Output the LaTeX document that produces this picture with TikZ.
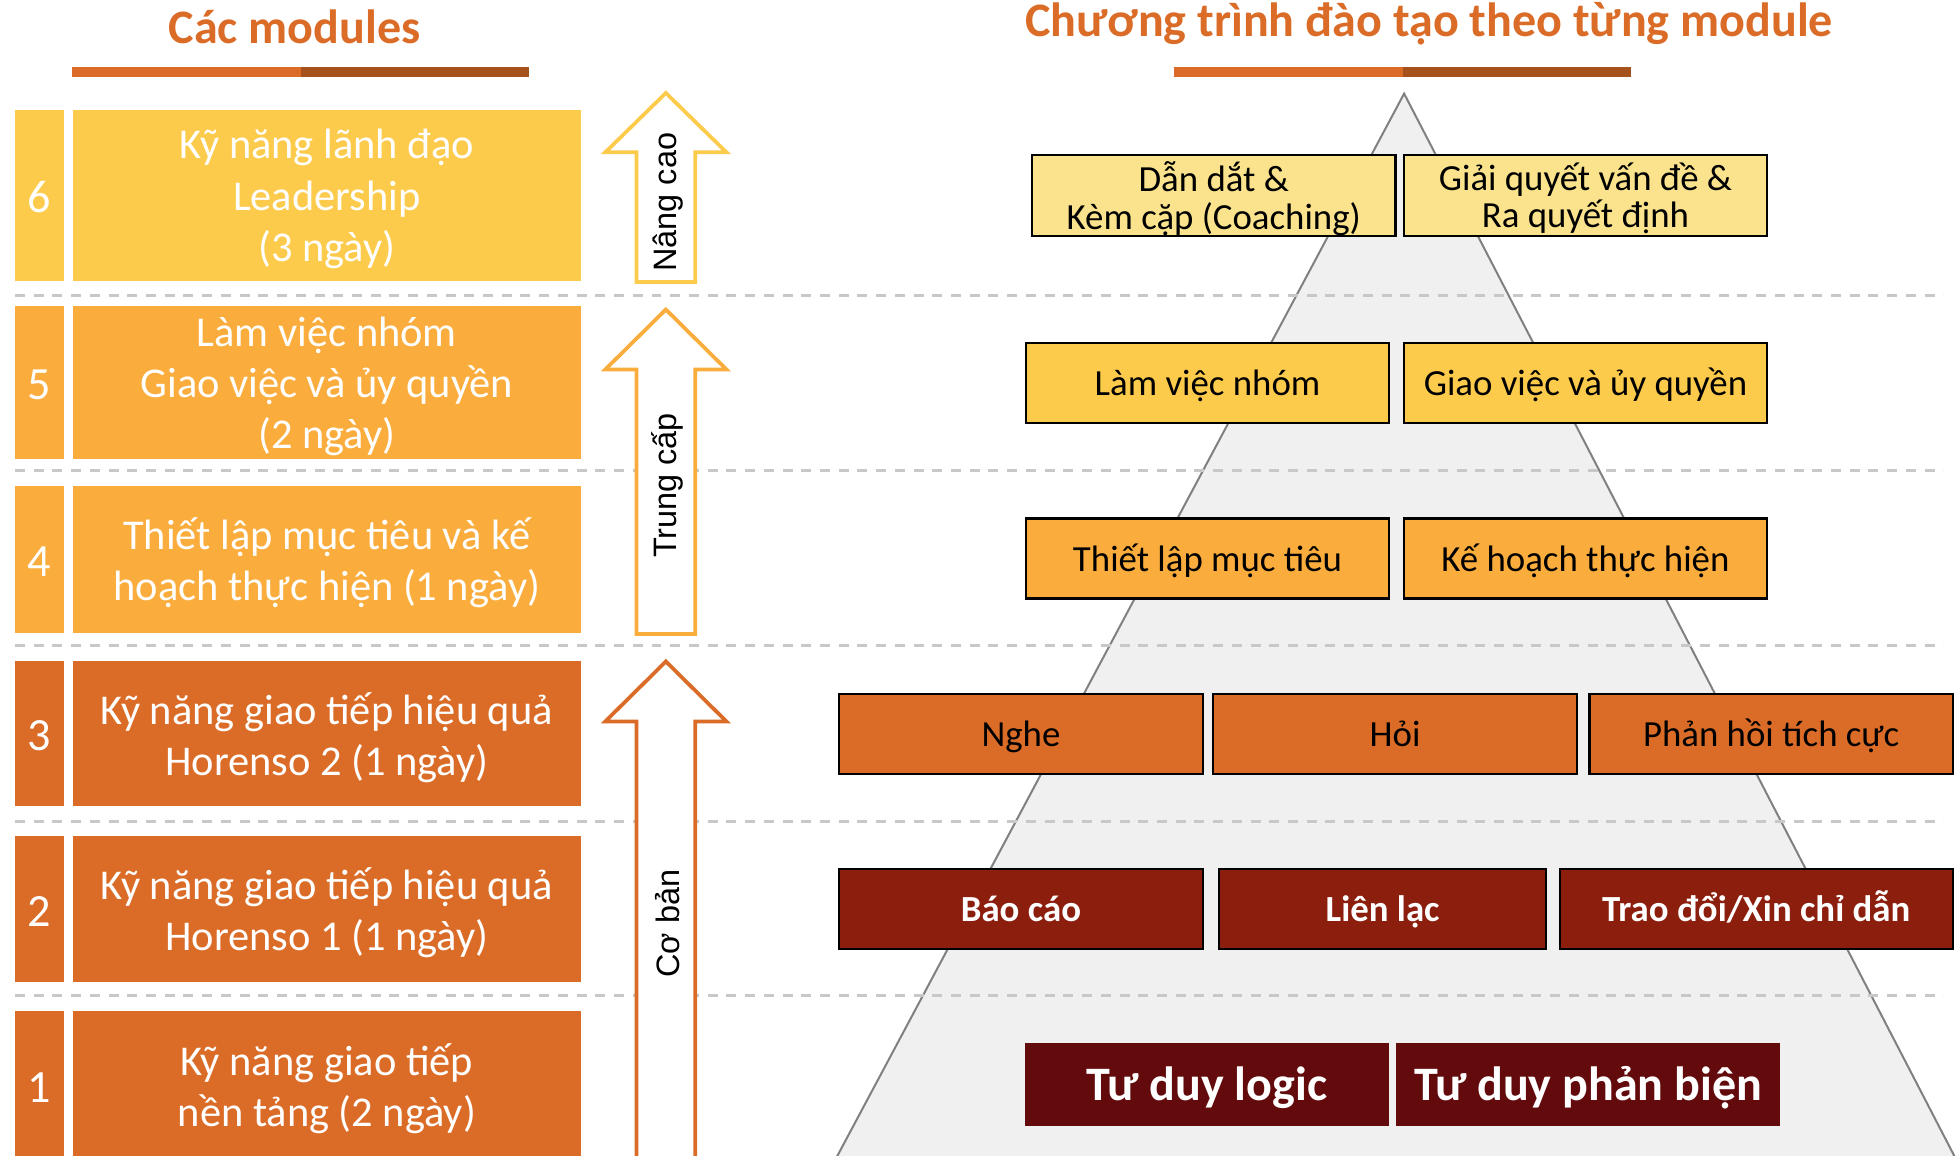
\documentclass[tikz,border=0pt]{standalone}
\usepackage{fontspec}
\setmainfont{Carlito}
\newfontfamily\arialfont{Liberation Sans}
\usetikzlibrary{positioning}
\definecolor{ModYellow}{HTML}{FDCB4C}
\definecolor{ModAmber}{HTML}{FAAD3D}
\definecolor{ModOrange}{HTML}{DB6C27}
\definecolor{ModBrown}{HTML}{A5521D}
\definecolor{SkillPale}{HTML}{FAE38C}
\definecolor{SkillRed}{HTML}{8B1E0D}
\definecolor{SkillDark}{HTML}{630A0D}
\definecolor{PyrFill}{HTML}{F0F0F0}
\definecolor{PyrLine}{HTML}{808080}
\definecolor{SepGray}{HTML}{C8C8C8}

\begin{document}
\begin{tikzpicture}[
    x=1pt, y=-1pt,
    node distance=7pt,
    heading/.style={font=\bfseries\fontsize{38.5}{44}\selectfont, text=ModOrange, anchor=base, inner sep=0},
    numbox/.style={fill=#1, minimum width=39pt, text=white, inner sep=0, text height=27pt, text depth=0pt, font=\fontsize{37}{44}\selectfont},
    modbox/.style={fill=#1, minimum width=407pt, text=white, inner sep=0, align=center, text depth=0pt, font=\fontsize{34}{41}\selectfont},
    levellabel/.style={rotate=90, inner sep=0, font=\arialfont\fontsize{26}{30}\selectfont},
    skill/.style={draw=black, line width=1.8pt, fill=#1, minimum height=64pt, inner sep=0, align=center, text height=21pt, text depth=1pt, font=\fontsize{29.5}{30}\selectfont},
    skillw/.style={skill=#1, text=white, font=\bfseries\fontsize{29.5}{30}\selectfont},
    twoline/.style={text height={}, text depth=0pt},
    footbox/.style={fill=SkillDark, text=white, minimum height=66pt, inner sep=0, text height=26.5pt, text depth=0.5pt, font=\bfseries\fontsize{38.5}{44}\selectfont},
    divider/.style={draw=SepGray, line width=2.4pt, dash pattern=on 8pt off 7pt},
    levelarrow/.style={draw=#1, line width=3pt, fill=white}
]
    \useasboundingbox (0,0) rectangle (1568,926);
    \clip (0,0) rectangle (1568,926);

    % pyramid behind the skills
    \filldraw[fill=PyrFill, draw=PyrLine, line width=1.6pt] (1125,75) -- (663.5,940) -- (1573,940) -- cycle;

    % level separators
    \foreach \y in {237,377,517,658,798}
        \draw[divider] (12,\y) -- (1557,\y);

    % level arrows
    \foreach \tipy/\heady/\taily/\col in {74.5/122/226/ModYellow, 248/296/508/ModAmber, 530/578/940/ModOrange}
        \draw[levelarrow=\col] (533.5,\tipy) -- (582,\heady) -- (557,\heady) -- (557,\taily) -- (510,\taily) -- (510,\heady) -- (485,\heady) -- cycle;

    \node[levellabel] (advanced) at (535,162) {Nâng cao};
    \node[levellabel] (middle) at (535,389) {Trung cấp};
    \node[levellabel] (basic) at (535,740) {Cơ bản};

    % modules
    \node[numbox=ModYellow, minimum height=137pt] (num6) at (31.5,156.5) {6};
    \node[modbox=ModYellow, minimum height=137pt, right=of num6] (mod6) {Kỹ năng lãnh đạo\\Leadership\\(3 ngày)};
    \node[numbox=ModAmber, minimum height=123pt] (num5) at (31.5,306.5) {5};
    \node[modbox=ModAmber, minimum height=123pt, right=of num5] (mod5) {Làm việc nhóm\\Giao việc và ủy quyền\\(2 ngày)};
    \node[numbox=ModAmber, minimum height=118pt] (num4) at (31.5,448) {4};
    \node[modbox=ModAmber, minimum height=118pt, right=of num4] (mod4) {Thiết lập mục tiêu và kế\\hoạch thực hiện (1 ngày)};
    \node[numbox=ModOrange, minimum height=116pt] (num3) at (31.5,588) {3};
    \node[modbox=ModOrange, minimum height=116pt, right=of num3] (mod3) {Kỹ năng giao tiếp hiệu quả\\Horenso 2 (1 ngày)};
    \node[numbox=ModOrange, minimum height=117pt] (num2) at (31.5,728.5) {2};
    \node[modbox=ModOrange, minimum height=117pt, right=of num2] (mod2) {Kỹ năng giao tiếp hiệu quả\\Horenso 1 (1 ngày)};
    \node[numbox=ModOrange, minimum height=119pt] (num1) at (31.5,869.5) {1};
    \node[modbox=ModOrange, minimum height=119pt, right=of num1] (mod1) {Kỹ năng giao tiếp\\nền tảng (2 ngày)};

    % skills in the pyramid
    \node[skill=SkillPale, twoline, minimum width=291pt, minimum height=65pt] (coach) at (972.5,156.5) {Dẫn dắt \&\\Kèm cặp (Coaching)};
    \node[skill=SkillPale, twoline, minimum width=291pt, minimum height=65pt, right=5pt of coach] (decide) {Giải quyết vấn đề \&\\Ra quyết định};
    \node[skill=ModYellow, minimum width=291pt] (teamwork) at (967.5,307) {Làm việc nhóm};
    \node[skill=ModYellow, minimum width=291pt, right=10pt of teamwork] (delegate) {Giao việc và ủy quyền};
    \node[skill=ModAmber, minimum width=291pt] (goals) at (967.5,447.5) {Thiết lập mục tiêu};
    \node[skill=ModAmber, minimum width=291pt, right=10pt of goals] (plan) {Kế hoạch thực hiện};
    \node[skill=ModOrange, minimum width=292pt] (listen) at (818,588) {Nghe};
    \node[skill=ModOrange, minimum width=292pt, right=6pt of listen] (ask) {Hỏi};
    \node[skill=ModOrange, minimum width=291pt, right=8pt of ask] (feedback) {Phản hồi tích cực};
    \node[skillw=SkillRed, minimum width=292pt] (report) at (818,728.5) {Báo cáo};
    \node[skillw=SkillRed, minimum width=262pt, right=11pt of report] (contact) {Liên lạc};
    \node[skillw=SkillRed, minimum width=315pt, right=9pt of contact] (consult) {Trao đổi/Xin chỉ dẫn};
    \node[footbox, minimum width=292pt] (logic) at (967,869) {Tư duy logic};
    \node[footbox, minimum width=308pt, right=5pt of logic] (critical) {Tư duy phản biện};

    % headings
    \node[heading] (modtitle) at (236,35) {Các modules};
    \node[heading] (progtitle) at (1145,29.5) {Chương trình đào tạo theo từng module};
    \fill[ModOrange] (58,54) rectangle (241,61.5);
    \fill[ModBrown] (241,54) rectangle (424,61.5);
    \fill[ModOrange] (941,54) rectangle (1124,61.5);
    \fill[ModBrown] (1124,54) rectangle (1307,61.5);
\end{tikzpicture}
\end{document}
